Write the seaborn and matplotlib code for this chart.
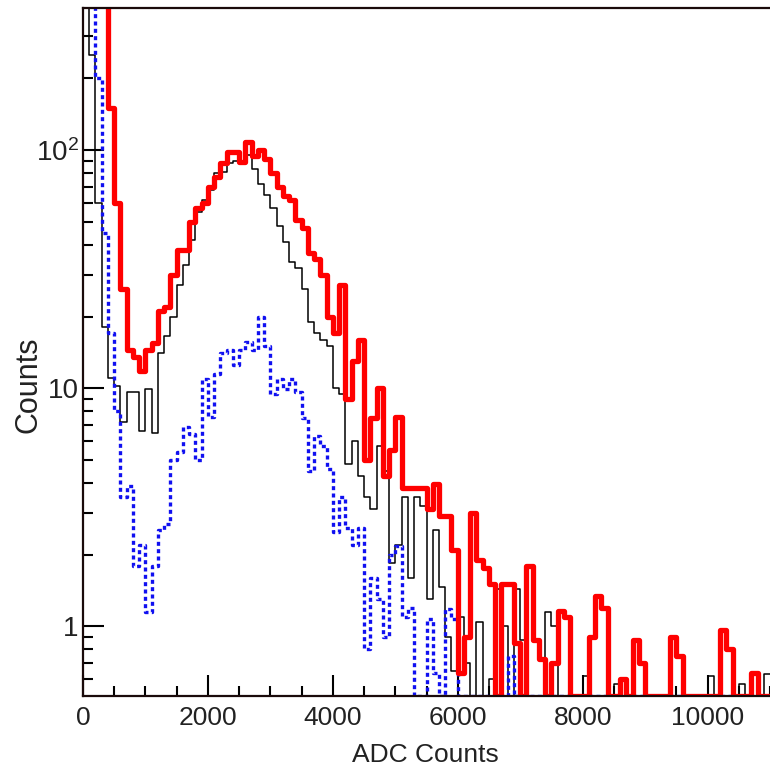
import numpy as np
import pandas as pd
import matplotlib
matplotlib.use("Agg")
import matplotlib.pyplot as plt
import matplotlib.font_manager as fm
from matplotlib.ticker import MultipleLocator, LogLocator, FixedLocator, FixedFormatter, NullFormatter
import seaborn as sns

# ---- data (histogram contents, 100 ADC-count bins from 0 to 11000) ----
bin_width = 100
red_counts = [2000, 2000, 1000, 420, 150, 60, 26, 14.5, 13.5, 11.8,
              14.5, 15.5, 21, 22, 30, 38, 38, 50, 57, 60,
              70, 77, 88, 98, 98, 89, 108, 94, 100, 92,
              80, 70, 64, 62, 51, 47, 37, 35, 30, 20,
              17, 27, 9, 13, 16, 5, 7.5, 10, 4.3, 5.5,
              7.6, 3.8, 3.8, 3.8, 3.8, 3.1, 3.95, 2.9, 2.9, 2.1,
              0.64, 0.9, 3.0, 1.9, 1.75, 1.5, 0, 1.5, 1.5, 0.85,
              0, 1.8, 0.88, 0.73, 0, 0.7, 1.16, 1.1, 0, 0,
              0, 0.9, 1.34, 1.2, 0, 0, 0.6, 0, 0.88, 0.7,
              0, 0, 0, 0, 0.9, 0.75, 0, 0, 0, 0,
              0, 0, 0.97, 0.8, 0, 0, 0, 0.64, 0, 0]
black_counts = [2000, 250, 60, 18, 11, 10.2, 7.2, 9.6, 9.6, 6.6,
                9.9, 6.5, 14, 16.5, 20, 27, 33, 42, 55, 62,
                68, 80, 81, 88, 90, 89, 95, 83, 72, 65,
                57, 48, 41, 34, 32, 26, 19, 17, 16, 15,
                10, 9.5, 4.8, 6.0, 4.3, 3.5, 3.1, 5.7, 4.5, 1.85,
                2.2, 3.5, 1.6, 3.5, 3.2, 1.3, 2.55, 1.47, 0.9, 0.65,
                1.1, 0.7, 0, 1.04, 0, 0.6, 1.43, 1.0, 0, 1.43,
                0.88, 0, 0, 0, 1.15, 1.0, 0, 0, 0, 0,
                0.62, 0, 0, 0, 0, 0.57, 0, 0, 0, 0,
                0, 0, 0, 0, 0, 0, 0, 0, 0, 0,
                0.62, 0, 0, 0, 0, 0.57, 0, 0, 0, 0.63]
blue_counts = [2000, 2000, 200, 45, 17, 8, 3.5, 3.9, 1.8, 2.2,
               1.15, 1.8, 2.55, 2.7, 5.0, 5.4, 6.9, 6.4, 5.0, 10.9,
               7.6, 11.5, 14.1, 14.5, 12.5, 14.5, 15.6, 14.5, 20, 15,
               9.5, 10.9, 9.9, 10.9, 9.6, 7.5, 4.5, 6.3, 5.7, 4.6,
               2.5, 3.5, 2.6, 2.2, 2.6, 0.8, 1.6, 1.3, 0.9, 2.0,
               2.17, 1.1, 1.2, 0, 0, 1.07, 0.64, 0, 1.18, 1.07,
               0, 0, 0, 0, 0, 0, 0, 0, 0.75, 0] + [0] * 40

x_tick_values = [0, 2000, 4000, 6000, 8000, 10000]
x_tick_labels = ["0", "2000", "4000", "6000", "8000", "10000"]
y_tick_values = [1, 10, 100]
y_tick_labels = ["1", "10", r"$\mathregular{10^{2}}$"]
x_label = "ADC Counts"
y_label = "Counts"

# ---- build step tables ----
YMIN, YMAX = 0.51, 395
n_bins = len(red_counts)
edges = np.arange(n_bins + 1) * bin_width


def step_frame(vals):
    v = np.asarray(vals, dtype=float)
    v = np.where(v <= 0, YMIN, v)       # empty bins sit on the frame bottom
    v = np.append(v, v[-1])
    return pd.DataFrame({"adc": edges, "counts": v})


sns.set_style("ticks")
names = {f.name for f in fm.fontManager.ttflist}
narrow = "Liberation Sans Narrow" if "Liberation Sans Narrow" in names else "Liberation Sans"
plt.rcParams["font.family"] = ["Liberation Sans", "DejaVu Sans"]

fig = plt.figure(figsize=(7.7, 7.76), dpi=100)
ax = fig.add_axes([83 / 770, 80 / 776, 687 / 770, 688 / 776])

sns.lineplot(data=step_frame(black_counts), x="adc", y="counts", ax=ax,
             drawstyle="steps-post", color="black", lw=1.1,
             estimator=None, sort=False)
sns.lineplot(data=step_frame(blue_counts), x="adc", y="counts", ax=ax,
             drawstyle="steps-post", color="#1010f0", lw=2.4,
             dashes=False, linestyle=(0, (1.2, 1.0)),
             estimator=None, sort=False)
sns.lineplot(data=step_frame(red_counts), x="adc", y="counts", ax=ax,
             drawstyle="steps-post", color="#ff0000", lw=3.8,
             estimator=None, sort=False)

ax.set_yscale("log")
ax.set_xlim(0, 11000)
ax.set_ylim(YMIN, YMAX)

ax.xaxis.set_major_locator(FixedLocator(x_tick_values))
ax.xaxis.set_major_formatter(FixedFormatter(x_tick_labels))
ax.xaxis.set_minor_locator(MultipleLocator(500))
ax.yaxis.set_major_locator(FixedLocator(y_tick_values))
ax.yaxis.set_major_formatter(FixedFormatter(y_tick_labels))
ax.yaxis.set_minor_locator(LogLocator(base=10, subs=np.arange(2, 10)))
ax.yaxis.set_minor_formatter(NullFormatter())

ax.tick_params(axis="both", which="major", direction="in", length=15, width=1.5,
               color="black", top=False, right=False)
ax.tick_params(axis="both", which="minor", direction="in", length=7, width=1.5,
               color="black", top=False, right=False)
ax.tick_params(axis="x", which="major", pad=7, labelsize=19, labelcolor="#222222")
ax.tick_params(axis="y", which="major", pad=3, labelsize=20, labelcolor="#222222")
for lab in ax.get_xticklabels() + ax.get_yticklabels():
    lab.set_fontfamily([narrow, "DejaVu Sans"])

for side in ["left", "bottom", "top"]:
    ax.spines[side].set_visible(True)
    ax.spines[side].set_linewidth(1.6)
    ax.spines[side].set_color("#1a0a0a")
ax.spines["right"].set_visible(False)

ax.set_xlabel(x_label, fontsize=19, color="#222222", family=[narrow, "DejaVu Sans"])
ax.set_ylabel(y_label, fontsize=22, color="#222222")
ax.xaxis.set_label_coords(0.498, -0.068)
ax.yaxis.set_label_coords(-0.058, 0.452)

fig.savefig("out.png", dpi=100)
